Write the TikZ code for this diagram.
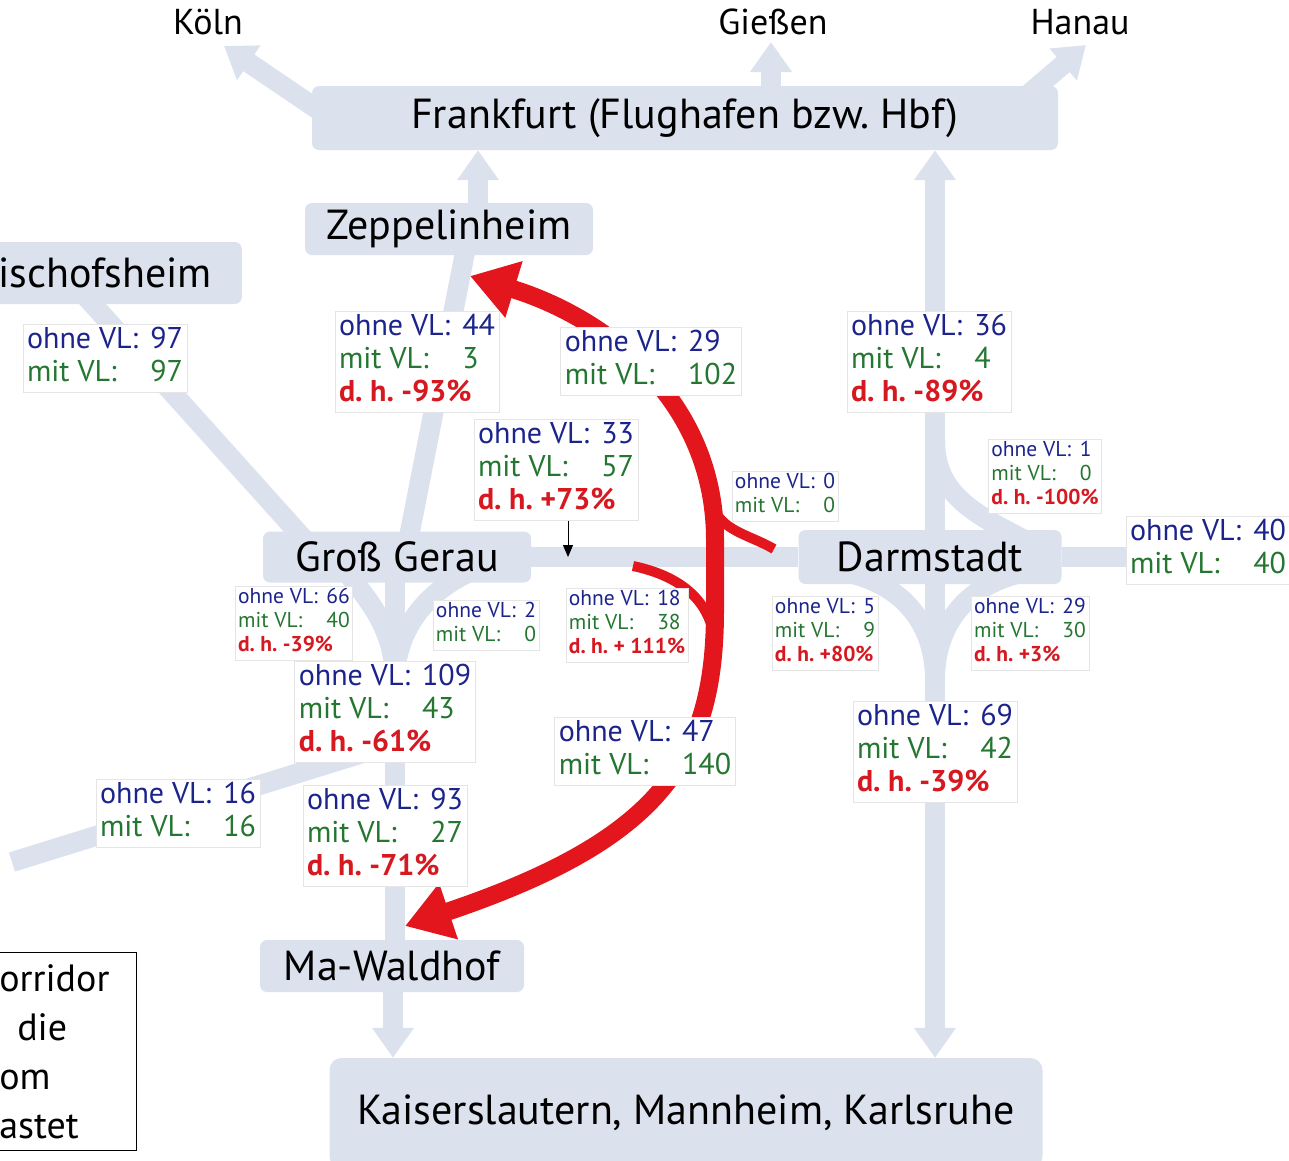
\documentclass[tikz,border=0pt]{standalone}
\usepackage{fontspec}
\setmainfont{PT Sans}
\usepackage{xcolor}
\usetikzlibrary{
    arrows.meta,
    backgrounds,
    calc,
    positioning,
}
\frenchspacing

\definecolor{trackgrey}{RGB}{220,225,238}
\definecolor{flowred}{RGB}{226,22,28}
\definecolor{vlblue}{RGB}{28,36,140}
\definecolor{vlgreen}{RGB}{36,118,48}
\definecolor{vlred}{RGB}{214,24,32}

% Zaehlwerte ohne / mit VL
\newcommand{\ohnemit}[2]{%
    \begin{tabular}{@{}l@{\hspace{0.4em}}l@{}}
        \color{vlblue}ohne VL: & \color{vlblue}#1\\
        \color{vlgreen}mit VL: & \color{vlgreen}#2
    \end{tabular}}
\newcommand{\ohnemitdh}[3]{%
    \begin{tabular}{@{}l@{\hspace{0.4em}}l@{}}
        \color{vlblue}ohne VL: & \color{vlblue}#1\\
        \color{vlgreen}mit VL: & \color{vlgreen}#2\\
        \multicolumn{2}{@{}l@{}}{\color{vlred}\bfseries d. h. #3}
    \end{tabular}}

\begin{document}
\begin{tikzpicture}[x=1pt,y=-1pt,>={Triangle[length=30pt,width=40pt]}]

    \tikzstyle{station}=[fill=trackgrey, rounded corners=7pt, inner sep=0pt, font=\fontsize{42}{46}\selectfont]
    \tikzstyle{city}=[inner sep=0pt, font=\fontsize{36}{40}\selectfont]
    \tikzstyle{track}=[draw=trackgrey, line width=20pt]
    \tikzstyle{countbox}=[draw=black!10, line width=0.8pt, fill=white, inner xsep=4pt, inner ysep=1pt, font=\fontsize{30}{33}\selectfont]
    \tikzstyle{smallbox}=[countbox, inner xsep=3pt, font=\fontsize{21.5}{24}\selectfont]
    \tikzstyle{flow}=[draw=flowred, line width=18pt, {Triangle[length=46pt,width=56pt]}-{Triangle[length=46pt,width=56pt]}]
    \tikzstyle{branch}=[draw=flowred, line width=10pt]
    \tikzstyle{pointer}=[draw=black, line width=1pt, -{Triangle[length=12pt,width=10pt]}]
    \tikzstyle{legend}=[draw=black, line width=1.4pt, fill=white, align=left, text width=131pt, inner xsep=6pt, minimum height=198pt, font=\fontsize{38}{49}\selectfont]

    \useasboundingbox (0,0) rectangle (1289,1160);
    \clip (0,0) rectangle (1289,1160);

    % Destinations
    \node[city] (koeln)   at (208,22)  {Köln};
    \node[city] (giessen) at (773,22)  {Gießen};
    \node[city] (hanau)   at (1080,22) {Hanau};

    % Stations
    \node[station, minimum width=746pt, minimum height=64pt] (ffm)  at (685,118) {Frankfurt (Flughafen bzw. Hbf)};
    \node[station, minimum width=288pt, minimum height=52pt] (zepp) at (449,229) {Zeppelinheim};
    \node[station, minimum height=62pt, inner xsep=30pt, anchor=east] (bish) at (242,273) {ischofsheim};
    \node[station, minimum width=268pt, minimum height=51pt] (gg)   at (397,557) {Groß Gerau};
    \node[station, minimum width=263pt, minimum height=54pt] (da)   at (930,557) {Darmstadt};
    \node[station, minimum width=264pt, minimum height=52pt] (maw)  at (392,966) {Ma-Waldhof};
    \node[station, minimum width=713pt, minimum height=110pt, rounded corners=12pt] (kl) at (686,1113) {Kaiserslautern, Mannheim, Karlsruhe};

    % Track points
    \coordinate (koelnFrom)  at (345,128);
    \coordinate (koelnTip)   at (224,46);
    \coordinate (giessenTip) at (771,42);
    \coordinate (hanauFrom)  at (1010,110);
    \coordinate (hanauTip)   at (1086,45);
    \coordinate (zeppTrack)  at (478,229);
    \coordinate (zeppSouth)  at (469,232);
    \coordinate (bishTrack)  at (80,290);
    \coordinate (ggWest)     at (320,557);
    \coordinate (ggNorth)    at (405,557);
    \coordinate (ggTrack)    at (395,557);
    \coordinate (ggSW)       at (345,570);
    \coordinate (ggSE)       at (470,572);
    \coordinate (ggMerge)    at (395,675);
    \coordinate (ggSouth)    at (395,743);
    \coordinate (westEnd)    at (12,862);
    \coordinate (mawTrack)   at (393,966);
    \coordinate (daTrack)    at (935,557);
    \coordinate (daNorth)    at (935,440);
    \coordinate (daNE)       at (1035,545);
    \coordinate (daSW)       at (845,572);
    \coordinate (daSE)       at (1025,572);
    \coordinate (daMerge)    at (935,675);
    \coordinate (eastEnd)    at (1289,557);

    % Verlagerung (red)
    \coordinate (flowZepp) at (470,276);
    \coordinate (flowJoin) at (715,540);
    \coordinate (flowMid)  at (715,610);
    \coordinate (flowMaw)  at (405,926);
    \draw[flow] (flowZepp) to[out=-17,in=90] (flowJoin) -- (flowMid)
        .. controls (715,760) and (660,840) .. (flowMaw);
    \draw[branch] (774,549) to[out=150,in=-70] (711,503);
    \draw[branch] (633,566) to[out=-12,in=100] (714,636);

    % Counts
    \node[countbox] (b97)  at (105,358)  {\ohnemit{97}{97}};
    \node[countbox] (b44)  at (417,362)  {\ohnemitdh{44}{3}{-93\%}};
    \node[countbox] (b29)  at (651,361)  {\ohnemit{29}{102}};
    \node[countbox] (b33)  at (556,470)  {\ohnemitdh{33}{57}{+73\%}};
    \node[countbox] (b36)  at (929,362)  {\ohnemitdh{36}{4}{-89\%}};
    \node[smallbox] (b0)   at (785,496)  {\ohnemit{0}{0}};
    \node[smallbox] (b1)   at (1045,476) {\ohnemitdh{1}{0}{-100\%}};
    \node[countbox] (b40)  at (1208,550) {\ohnemit{40}{40}};
    \node[smallbox] (b66)  at (294,623)  {\ohnemitdh{66}{40}{-39\%}};
    \node[smallbox] (b2)   at (486,625)  {\ohnemit{2}{0}};
    \node[smallbox] (b18)  at (627,625)  {\ohnemitdh{18}{38}{+ 111\%}};
    \node[smallbox] (b5)   at (825,633)  {\ohnemitdh{5}{9}{+80\%}};
    \node[smallbox] (b29s) at (1030,633) {\ohnemitdh{29}{30}{+3\%}};
    \node[countbox] (b109) at (385,712)  {\ohnemitdh{109}{43}{-61\%}};
    \node[countbox] (b47)  at (645,751)  {\ohnemit{47}{140}};
    \node[countbox] (b69)  at (935,752)  {\ohnemitdh{69}{42}{-39\%}};
    \node[countbox] (b16)  at (178,813)  {\ohnemit{16}{16}};
    \node[countbox] (b93)  at (385,836)  {\ohnemitdh{93}{27}{-71\%}};

    \coordinate (pointerTop) at ($(b33.south)+(12,0)$);
    \draw[pointer] (pointerTop) -- (pointerTop |- gg.center);

    % Legend (cut off)
    \node[legend, anchor=north east] (note) at (137,952) {orridor\\\hspace*{18pt}die\\om\\astet};

    \begin{pgfonlayer}{background}
        % towards Frankfurt and beyond
        \draw[track,->] (koelnFrom) -- (koelnTip);
        \draw[track,->] (giessenTip |- ffm.center) -- (giessenTip);
        \draw[track,->] (hanauFrom) -- (hanauTip);
        \draw[track,->] (zeppTrack) -- (zeppTrack |- ffm.south);
        \draw[track,->] (daTrack) -- (daTrack |- ffm.south);
        % Gross Gerau
        \draw[track] (bishTrack) -- (ggWest);
        \draw[track] (ggNorth) -- (zeppSouth);
        \draw[track] (gg) -- (da);
        \draw[track] (da) -- (eastEnd);
        \draw[track] (ggTrack) -- (ggTrack |- mawTrack);
        \draw[track,->] (mawTrack) -- (mawTrack |- kl.north);
        \draw[track] (ggSW) .. controls (368,600) and (392,625) .. (ggMerge);
        \draw[track] (ggSE) .. controls (430,590) and (398,625) .. (ggMerge);
        \draw[track] (ggSouth) -- (westEnd);
        % Darmstadt
        \draw[track,->] (daTrack) -- (daTrack |- kl.north);
        \draw[track] (daNorth) .. controls (935,495) and (975,515) .. (daNE);
        \draw[track] (daSW) .. controls (905,585) and (933,625) .. (daMerge);
        \draw[track] (daSE) .. controls (965,585) and (937,625) .. (daMerge);
    \end{pgfonlayer}

\end{tikzpicture}
\end{document}
